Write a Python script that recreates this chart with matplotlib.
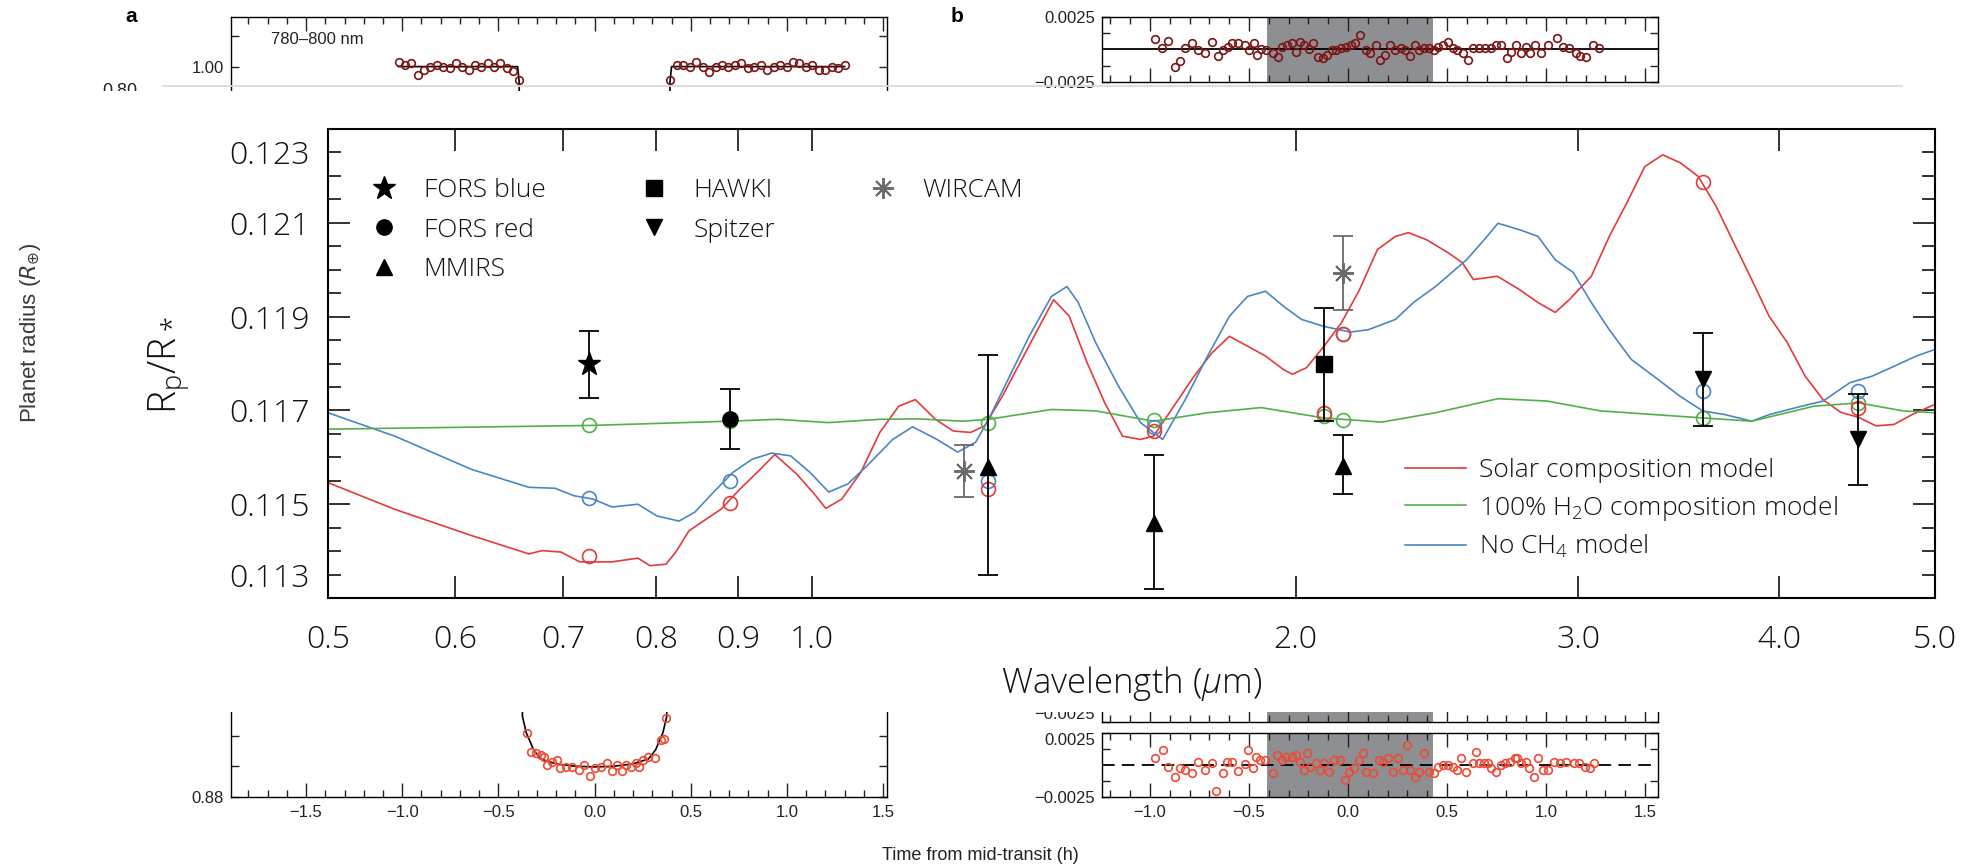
import numpy as np
import matplotlib
matplotlib.use("Agg")
import matplotlib.pyplot as plt
from matplotlib.lines import Line2D
from matplotlib.patches import Rectangle
from matplotlib.font_manager import FontProperties
from matplotlib.ticker import MultipleLocator, FuncFormatter, NullLocator

W, H = 1979, 867

plt.rcParams['mathtext.fontset'] = 'custom'
plt.rcParams['mathtext.rm'] = 'Open Sans:light'
plt.rcParams['mathtext.it'] = 'Open Sans:light:italic'
plt.rcParams['mathtext.bf'] = 'Open Sans:bold'

# ---------------- transmission spectrum (main panel) ----------------
fors_blue_wl = [0.727]
fors_blue_rp = [0.11798]
fors_blue_err = [0.00072]

fors_red_wl = [0.889]
fors_red_rp = [0.11681]
fors_red_err = [0.00064]

mmirs_wl = [1.288, 1.632, 2.14]
mmirs_rp = [0.11579, 0.1146, 0.11581]
mmirs_err_lo = [0.00229, 0.0014, 0.0006]
mmirs_err_hi = [0.0024, 0.00145, 0.00066]

hawki_wl = [2.084]
hawki_rp = [0.11798]
hawki_err = [0.0012]

spitzer_wl = [3.584, 4.48]
spitzer_rp = [0.11766, 0.11638]
spitzer_err = [0.001, 0.00097]

wircam_wl = [1.243, 2.14]
wircam_rp = [0.11571, 0.11993]
wircam_err = [0.00055, 0.00079]

# band-averaged model values (open circles)
band_wl = [0.727, 0.889, 1.288, 1.632, 2.084, 2.14, 3.584, 4.48]
solar_band = [0.11390, 0.11502, 0.11532, 0.11656, 0.11695, 0.11863, 0.12188, 0.11706]
h2o_band = [0.11668, 0.11677, 0.11674, 0.11679, 0.11688, 0.11679, 0.11683, 0.11716]
noch4_band = [0.11513, 0.11550, 0.11550, 0.11665, np.nan, 0.11863, 0.11741, 0.11741]

# model spectra
solar_wl = [0.500, 0.5503, 0.6144, 0.6668, 0.6794, 0.6981, 0.7173, 0.7510, 0.7795, 0.7930,
            0.8114, 0.8231, 0.8386, 0.8543, 0.8779, 0.9021, 0.9268, 0.9484, 0.9788, 1.0058,
            1.0203, 1.0440, 1.0728, 1.1024, 1.1327, 1.1600, 1.1938, 1.2249, 1.2557, 1.2811,
            1.3139, 1.3480, 1.3820, 1.4142, 1.4461, 1.4836, 1.5213, 1.5610, 1.6018, 1.6320,
            1.6746, 1.7295, 1.7747, 1.8194, 1.8671, 1.9158, 1.9659, 1.9914, 2.0317, 2.0837,
            2.1361, 2.1919, 2.2491, 2.3079, 2.3513, 2.4126, 2.4894, 2.5398, 2.5805, 2.6705,
            2.7586, 2.8307, 2.9019, 2.9606, 3.0556, 3.1354, 3.2159, 3.2991, 3.3845, 3.4706,
            3.5613, 3.6543, 3.7480, 3.8450, 3.9419, 4.0455, 4.1511, 4.2588, 4.3678, 4.4823,
            4.5949, 4.7148, 4.8378, 5.000]
solar_rp = [0.11546, 0.11489, 0.11433, 0.11394, 0.11401, 0.11398, 0.11377, 0.11377, 0.11385, 0.11369,
            0.11372, 0.11398, 0.11443, 0.11462, 0.11489, 0.11532, 0.11571, 0.11606, 0.11564, 0.11518,
            0.11491, 0.11511, 0.11568, 0.11653, 0.11709, 0.11723, 0.11681, 0.11656, 0.11653, 0.11667,
            0.11730, 0.11802, 0.11872, 0.11936, 0.11901, 0.11802, 0.11717, 0.11645, 0.11638, 0.11645,
            0.11702, 0.11773, 0.11823, 0.11858, 0.11837, 0.11816, 0.11787, 0.11777, 0.11791, 0.11837,
            0.11887, 0.11957, 0.12043, 0.12071, 0.12079, 0.12064, 0.12036, 0.12015, 0.11979, 0.11986,
            0.11957, 0.11930, 0.11909, 0.11936, 0.11986, 0.12071, 0.12143, 0.12220, 0.12245, 0.12228,
            0.12199, 0.12135, 0.12057, 0.11979, 0.11901, 0.11845, 0.11773, 0.11723, 0.11696, 0.11685,
            0.11667, 0.11670, 0.11691, 0.11713]

noch4_wl = [0.500, 0.5503, 0.6144, 0.6668, 0.6921, 0.7112, 0.7308, 0.7510, 0.7795, 0.8010,
            0.8268, 0.8457, 0.8689, 0.8932, 0.9183, 0.9442, 0.9703, 0.9973, 1.0246, 1.0529,
            1.0818, 1.1229, 1.1555, 1.1966, 1.2325, 1.2646, 1.2885, 1.3222, 1.3655, 1.4097,
            1.4415, 1.4650, 1.5018, 1.5517, 1.6018, 1.6532, 1.7077, 1.7633, 1.8194, 1.8671,
            1.9158, 1.9659, 2.0172, 2.0837, 2.1633, 2.2198, 2.3079, 2.3681, 2.4440, 2.5551,
            2.6212, 2.6730, 2.7586, 2.8307, 2.9019, 2.9777, 3.0556, 3.1354, 3.2350, 3.3620,
            3.4706, 3.5842, 3.7009, 3.8457, 3.9427, 4.0980, 4.2595, 4.4253, 4.5690, 4.7150,
            4.8690, 5.000]
noch4_rp = [0.11695, 0.11645, 0.11574, 0.11536, 0.11534, 0.11518, 0.11511, 0.11494, 0.11500, 0.11475,
            0.11464, 0.11483, 0.11526, 0.11568, 0.11596, 0.11609, 0.11603, 0.11568, 0.11526, 0.11543,
            0.11581, 0.11638, 0.11665, 0.11638, 0.11611, 0.11632, 0.11681, 0.11760, 0.11858, 0.11943,
            0.11964, 0.11930, 0.11845, 0.11752, 0.11674, 0.11638, 0.11723, 0.11816, 0.11901, 0.11943,
            0.11954, 0.11922, 0.11894, 0.11879, 0.11867, 0.11872, 0.11894, 0.11930, 0.11964, 0.12021,
            0.12064, 0.12099, 0.12085, 0.12071, 0.12021, 0.11994, 0.11930, 0.11872, 0.11809, 0.11766,
            0.11730, 0.11699, 0.11691, 0.11677, 0.11691, 0.11706, 0.11720, 0.11759, 0.11773, 0.11794,
            0.11816, 0.11830]

h2o_wl = [0.500, 0.7297, 0.8891, 0.9525, 1.0240, 1.1024, 1.1640, 1.2404, 1.2885, 1.4100,
          1.5018, 1.6320, 1.7633, 1.9039, 2.0819, 2.2629, 2.4440, 2.6730, 2.8669, 3.0953,
          3.5842, 3.8457, 4.2042, 4.4820, 4.7762, 5.000]
h2o_rp = [0.11660, 0.11668, 0.11677, 0.11681, 0.11674, 0.11681, 0.11682, 0.11677, 0.11681, 0.11702,
          0.11699, 0.11677, 0.11695, 0.11706, 0.11684, 0.11675, 0.11695, 0.11725, 0.11720, 0.11699,
          0.11684, 0.11677, 0.11709, 0.11716, 0.11699, 0.11695]

wl_ticks = [0.5, 0.6, 0.7, 0.8, 0.9, 1.0, 2.0, 3.0, 4.0, 5.0]
wl_ticklabels = ['0.5', '0.6', '0.7', '0.8', '0.9', '1.0', '2.0', '3.0', '4.0', '5.0']

# ---------------- light curve panel a ----------------
a_pre_t = [-1.018, -0.985, -0.952, -0.919, -0.886, -0.853, -0.820, -0.787, -0.754, -0.721,
           -0.688, -0.655, -0.622, -0.589, -0.556, -0.523, -0.490, -0.457, -0.424, -0.394]
a_pre_f = [1.00082, 1.00028, 1.00066, 0.99864, 0.99946, 1.00000, 1.00028, 1.00000, 0.99973, 1.00055,
           1.00000, 0.99946, 1.00028, 1.00000, 1.00055, 1.00000, 1.00055, 0.99973, 0.99934, 0.99781]
a_post_t = [0.394, 0.428, 0.461, 0.495, 0.528, 0.562, 0.595, 0.629, 0.662, 0.696,
            0.730, 0.763, 0.797, 0.830, 0.864, 0.897, 0.931, 0.964, 0.998, 1.032,
            1.065, 1.099, 1.132, 1.166, 1.199, 1.233, 1.266, 1.300]
a_post_f = [0.99781, 1.00028, 1.00028, 1.00000, 1.00082, 1.00000, 0.99918, 1.00000, 1.00028, 1.00000,
            1.00028, 1.00055, 0.99973, 1.00000, 1.00028, 0.99946, 1.00000, 1.00028, 1.00000, 1.00082,
            1.00055, 1.00000, 1.00028, 0.99946, 0.99946, 1.00000, 0.99973, 1.00028]
a_in_t = [-0.352, -0.329, -0.303, -0.279, -0.263, -0.247, -0.220, -0.197, -0.181, -0.148,
          -0.115, -0.082, -0.056, -0.023, 0.000, 0.033, 0.066, 0.092, 0.115, 0.142,
          0.165, 0.188, 0.214, 0.230, 0.254, 0.280, 0.313, 0.345, 0.362, 0.372]
a_in_f = [0.89042, 0.88740, 0.88713, 0.88686, 0.88658, 0.88521, 0.88575, 0.88603, 0.88466, 0.88493,
          0.88493, 0.88439, 0.88521, 0.88340, 0.88466, 0.88493, 0.88548, 0.88422, 0.88521, 0.88428,
          0.88521, 0.88493, 0.88548, 0.88493, 0.88603, 0.88658, 0.88641, 0.88932, 0.88943, 0.89288]
a_model_t = [-1.02, -0.40, -0.392, -0.375, -0.355, -0.317, -0.28, -0.20, -0.10, 0.0,
             0.10, 0.20, 0.28, 0.317, 0.355, 0.375, 0.392, 0.40, 1.30]
a_model_f = [1.0, 1.0, 0.9975, 0.8932, 0.8905, 0.8877, 0.8862, 0.8854, 0.8850, 0.8849,
             0.8850, 0.8854, 0.8862, 0.8877, 0.8905, 0.8932, 0.9975, 1.0, 1.0]

# ---------------- residual panels b ----------------
b_top_t = [-0.973, -0.941, -0.910, -0.875, -0.847, -0.821, -0.790, -0.758, -0.721, -0.689,
           -0.658, -0.632, -0.607, -0.585, -0.553, -0.522, -0.500, -0.475, -0.459, -0.437,
           -0.412, -0.380, -0.355, -0.333, -0.307, -0.285, -0.263, -0.244, -0.222, -0.197,
           -0.175, -0.150, -0.128, -0.106, -0.080, -0.058, -0.033, -0.011, 0.014, 0.036,
           0.061, 0.093, 0.109, 0.140, 0.162, 0.188, 0.213, 0.235, 0.266, 0.288,
           0.314, 0.339, 0.361, 0.383, 0.408, 0.434, 0.456, 0.478, 0.503, 0.528,
           0.550, 0.582, 0.604, 0.629, 0.661, 0.692, 0.724, 0.749, 0.771, 0.802,
           0.825, 0.850, 0.875, 0.897, 0.919, 0.945, 0.976, 1.008, 1.055, 1.087,
           1.118, 1.150, 1.172, 1.203, 1.235, 1.266]
b_top_r = [0.00077, 0.00008, 0.00066, -0.00133, -0.00089, 0.00008, 0.00046, -0.00005, -0.00031, 0.00059,
           -0.00051, -0.00005, 0.00020, 0.00046, 0.00046, 0.00033, -0.00005, 0.00046, -0.00043, 0.0,
           -0.00005, -0.00031, -0.00056, 0.00020, 0.00033, 0.00051, -0.00018, 0.00059, 0.00033, 0.0,
           0.00046, -0.00056, -0.00069, -0.00043, -0.00005, -0.00005, 0.00008, 0.00020, 0.00033, 0.00046,
           0.00110, -0.00005, -0.00031, 0.00033, -0.00082, -0.00043, 0.00033, -0.00005, 0.00008, -0.00005,
           -0.00051, 0.00033, -0.00005, 0.00008, 0.00008, -0.00005, 0.00020, 0.00033, 0.00059, 0.00008,
           -0.00005, -0.00031, -0.00082, 0.00008, 0.00008, 0.00008, 0.00008, 0.00033, 0.00033, -0.00069,
           -0.00018, 0.00033, -0.00031, 0.00020, -0.00031, 0.00033, -0.00031, 0.00033, 0.00084, 0.00020,
           0.00008, -0.00031, -0.00051, -0.00056, 0.00033, 0.00008]

b_bot_t = [-0.973, -0.932, -0.910, -0.875, -0.847, -0.821, -0.790, -0.758, -0.721, -0.689,
           -0.664, -0.632, -0.613, -0.585, -0.553, -0.522, -0.506, -0.481, -0.465, -0.443,
           -0.418, -0.380, -0.358, -0.333, -0.311, -0.285, -0.263, -0.244, -0.222, -0.206,
           -0.191, -0.159, -0.143, -0.121, -0.096, -0.071, -0.042, -0.017, 0.005, 0.030,
           0.055, 0.077, 0.093, 0.124, 0.156, 0.178, 0.203, 0.229, 0.251, 0.276,
           0.298, 0.314, 0.339, 0.361, 0.383, 0.408, 0.434, 0.456, 0.478, 0.503,
           0.528, 0.550, 0.572, 0.598, 0.629, 0.645, 0.661, 0.686, 0.708, 0.724,
           0.749, 0.771, 0.793, 0.818, 0.844, 0.856, 0.875, 0.897, 0.913, 0.938,
           0.960, 0.983, 1.008, 1.039, 1.071, 1.103, 1.140, 1.165, 1.197, 1.222, 1.244]
b_bot_r = [0.00053, 0.00118, -0.00013, -0.00097, -0.00026, -0.00039, -0.00066, 0.00026, -0.00039, 0.00018,
           -0.00202, -0.00060, 0.00026, 0.00026, -0.00045, 0.00008, 0.00118, -0.00026, 0.00066, 0.00039,
           0.00039, -0.00066, 0.00079, 0.00039, 0.00066, 0.00066, 0.00079, 0.00026, -0.00039, 0.00092,
           -0.00013, 0.00013, -0.00039, 0.00013, -0.00053, 0.00039, 0.00039, -0.00118, -0.00053, -0.00026,
           0.00039, 0.00092, -0.00053, -0.00066, 0.00039, 0.00026, 0.00053, -0.00053, 0.00053, -0.00039,
           0.00158, -0.00039, -0.00092, -0.00053, 0.00092, -0.00053, -0.00066, -0.00013, 0.0, 0.0,
           -0.00013, -0.00039, 0.00053, -0.00053, 0.00013, 0.00105, 0.00013, 0.00013, 0.00013, -0.00026,
           -0.00053, 0.0, 0.00013, 0.00026, 0.00053, 0.00053, 0.00013, 0.00026, -0.00026, -0.00092,
           0.00053, -0.00039, -0.00039, 0.00026, 0.00013, 0.00026, 0.00013, 0.00013, -0.00013, -0.00026, 0.00018]

in_transit = (-0.41, 0.43)

# ---------------- colours / fonts ----------------
RED = '#e53a3a'
GREEN = '#52b04a'
BLUE = '#4a86c6'
DARKRED = '#7e1414'
ORANGE = '#ee4b36'
SHADE = '#8d8f93'
INK = '#111111'
THIN = dict(family=['Open Sans', 'DejaVu Sans'], weight='light')
PANEL = ['Liberation Sans Narrow', 'Liberation Sans', 'DejaVu Sans']


def px_axes(fig, x0, y0, x1, y1, **kw):
    return fig.add_axes([x0 / W, 1 - y1 / H, (x1 - x0) / W, (y1 - y0) / H], **kw)


def one_dec(v, pos):
    if abs(v) < 1e-9:
        return '0.0'
    return f'{v:.1f}'.replace('-', '\u2212')


def panel_style(ax, xlabels=False):
    ax.xaxis.set_major_locator(MultipleLocator(0.5))
    ax.xaxis.set_minor_locator(MultipleLocator(0.1))
    ax.xaxis.set_major_formatter(FuncFormatter(one_dec))
    ax.tick_params(which='both', direction='in', top=True, right=True, width=1.0,
                   labelsize=12, colors='#222222')
    ax.tick_params(axis='x', which='major', length=10, pad=6, labelbottom=xlabels)
    ax.tick_params(axis='x', which='minor', length=5)
    ax.tick_params(axis='y', which='both', length=6, pad=5)
    for s in ax.spines.values():
        s.set_linewidth(1.0)
    for lab in ax.get_xticklabels() + ax.get_yticklabels():
        lab.set_family(PANEL)


fig = plt.figure(figsize=(W / 100, H / 100), dpi=100)
fig.patch.set_facecolor('white')

# ---- panel a (light curve, mostly hidden behind the spectrum) ----
ax_a = px_axes(fig, 231, 16.7, 887, 796.7)
ax_a.plot(a_model_t, a_model_f, color='k', lw=1.2, zorder=2)
ax_a.plot(a_pre_t, a_pre_f, 'o', mfc='none', mec=DARKRED, ms=5.5, mew=1.2, zorder=3)
ax_a.plot(a_post_t, a_post_f, 'o', mfc='none', mec=DARKRED, ms=5.5, mew=1.2, zorder=3)
ax_a.plot(a_in_t, a_in_f, 'o', mfc='none', mec=ORANGE, ms=5.5, mew=1.2, zorder=3)
ax_a.set_xlim(-1.89, 1.52)
ax_a.set_ylim(0.88, 1.0082)
ax_a.set_yticks([0.88, 1.00], ['0.88', '1.00'])
ax_a.yaxis.set_minor_locator(MultipleLocator(0.005))
panel_style(ax_a, xlabels=True)
ax_a.text(-1.68, 1.0045, '780\u2013800 nm', fontsize=12, family=PANEL, va='center', color='#222222')

# ---- panel b residuals ----
b_x0, b_x1 = 1101.8, 1657.5
ax_b1 = px_axes(fig, b_x0, 16.7, b_x1, 82)
ax_b2 = px_axes(fig, b_x0, 640, b_x1, 722)
ax_b3 = px_axes(fig, b_x0, 733.3, b_x1, 796.7)
for axb in (ax_b1, ax_b2, ax_b3):
    axb.axvspan(in_transit[0], in_transit[1], color=SHADE, lw=0, zorder=1)
    axb.set_xlim(-1.243, 1.563)
ax_b1.axhline(0, color='k', lw=1.3, zorder=2)
ax_b1.plot(b_top_t, b_top_r, 'o', mfc='none', mec=DARKRED, ms=5.5, mew=1.2, zorder=3)
ax_b3.axhline(0, color='k', lw=1.3, dashes=(7, 4), zorder=2)
ax_b3.plot(b_bot_t, b_bot_r, 'o', mfc='none', mec=ORANGE, ms=5.5, mew=1.2, zorder=3)
ax_b1.set_ylim(-0.0025, 0.0025)
ax_b3.set_ylim(-0.0025, 0.0025)
ax_b2.set_ylim(-0.0025, 0.0040)
for axb in (ax_b1, ax_b3):
    axb.set_yticks([-0.0025, 0.0025], ['\u22120.0025', '0.0025'])
    axb.set_yticks([-0.00125, 0.00125], minor=True)
ax_b2.set_yticks([-0.0025], ['\u22120.0025'])
ax_b2.set_yticks([-0.00125, 0.0, 0.00125, 0.0025], minor=True)
panel_style(ax_b1)
panel_style(ax_b2)
panel_style(ax_b3, xlabels=True)
# keep the stacked labels of b2 / b3 apart
ax_b3.get_yticklabels()[1].set_verticalalignment('top')
ax_b2.get_yticklabels()[0].set_verticalalignment('bottom')

fig.text(131 / W, 1 - 17 / H, 'a', fontsize=15, fontweight='bold', family=PANEL, ha='center', va='center')
fig.text(957 / W, 1 - 17 / H, 'b', fontsize=15, fontweight='bold', family=PANEL, ha='center', va='center')
fig.text(120 / W, 1 - 92 / H, '0.80', fontsize=13, family=PANEL, ha='center', va='center',
         color='#222222', zorder=0.5)
fig.text(980 / W, 1 - 855 / H, 'Time from mid-transit (h)', fontsize=13, family=PANEL,
         ha='center', va='center', color='#222222')
fig.text(31 / W, 1 - 333 / H, r'Planet radius ($R_{\oplus}$)', rotation=90, fontsize=16,
         family=PANEL, ha='center', va='center', color='#3a3a3a', math_fontfamily='dejavusans',
         zorder=0.5)

# ---- white cover holding the spectrum ----
fig.patches.append(Rectangle((60 / W, 1 - 712 / H), (W - 60) / W, (712 - 91) / H,
                             transform=fig.transFigure, facecolor='white', edgecolor='none', zorder=1))
fig.lines.append(Line2D([163 / W, 1902 / W], [1 - 86 / H, 1 - 86 / H], transform=fig.transFigure,
                        color='#dadada', lw=1.3, zorder=1.1))

# ---- main transmission spectrum ----
ax = px_axes(fig, 328, 129, 1935, 598, zorder=2)
ax.set_xscale('log')
ax.plot(solar_wl, solar_rp, color=RED, lw=1.2, zorder=2)
ax.plot(noch4_wl, noch4_rp, color=BLUE, lw=1.2, zorder=2)
ax.plot(h2o_wl, h2o_rp, color=GREEN, lw=1.2, zorder=2)
ax.plot(band_wl, h2o_band, 'o', mfc='none', mec=GREEN, ms=10, mew=1.2, zorder=3)
ax.plot(band_wl, noch4_band, 'o', mfc='none', mec=BLUE, ms=10, mew=1.2, zorder=3)
ax.plot(band_wl, solar_band, 'o', mfc='none', mec=RED, ms=10, mew=1.2, zorder=3)

eb = dict(capsize=7, elinewidth=1.3, capthick=1.3, zorder=5, ls='none')
ax.errorbar(fors_blue_wl, fors_blue_rp, yerr=fors_blue_err, fmt='*', color='k', ms=17, **eb)
ax.errorbar(fors_red_wl, fors_red_rp, yerr=fors_red_err, fmt='o', color='k', ms=11, **eb)
ax.errorbar(mmirs_wl, mmirs_rp, yerr=[mmirs_err_lo, mmirs_err_hi], fmt='^', color='k', ms=12, **eb)
ax.errorbar(hawki_wl, hawki_rp, yerr=hawki_err, fmt='s', color='k', ms=11, **eb)
ax.errorbar(spitzer_wl, spitzer_rp, yerr=spitzer_err, fmt='v', color='k', ms=12, **eb)
ax.errorbar(wircam_wl, wircam_rp, yerr=wircam_err, fmt='none', ecolor='#6a6a6a', **eb)
ax.plot(wircam_wl, wircam_rp, ls='none', marker=(8, 2, 0), color='#6a6a6a', ms=15, mew=1.4, zorder=5)

ax.set_xlim(0.5, 5.0)
ax.set_ylim(0.113, 0.123)
ax.set_xticks(wl_ticks, wl_ticklabels)
ax.xaxis.set_minor_locator(NullLocator())
ax.set_yticks([0.115, 0.117, 0.119, 0.121], ['0.115', '0.117', '0.119', '0.121'])
y_minor = [0.1135, 0.114, 0.1145, 0.1155, 0.116, 0.1165, 0.1175, 0.118, 0.1185,
           0.1195, 0.120, 0.1205, 0.1215, 0.122, 0.1225]
y_minor_labels = ['0.113'] + [''] * 13 + ['0.123']
ax.set_yticks(y_minor, y_minor_labels, minor=True)
ax.tick_params(which='both', direction='in', top=True, right=True, width=1.2, colors=INK)
ax.tick_params(which='major', length=16)
ax.tick_params(which='minor', length=9.5)
ax.tick_params(axis='x', which='both', pad=19)
ax.tick_params(axis='y', which='both', pad=13)
tick_fp = FontProperties(size=23, **THIN)
for lab in (ax.get_xticklabels() + ax.get_yticklabels() + ax.get_yticklabels(minor=True)):
    lab.set_fontproperties(tick_fp)
for s in ax.spines.values():
    s.set_linewidth(1.5)

ax.set_xlabel(r'Wavelength ($\mu$m)', fontproperties=FontProperties(size=25, **THIN), color=INK)
ax.xaxis.set_label_coords(0.5, -0.14)
ax.set_ylabel(r'R$_\mathrm{p}$/R$_*$', fontproperties=FontProperties(size=28, **THIN), color=INK)
ax.yaxis.set_label_coords(-0.0846, 0.4968)

# instrument legend (3 columns, filled column-wise)
blank = Line2D([], [], ls='none', marker='none')
inst_handles = [
    Line2D([], [], ls='none', marker='*', color='k', ms=17),
    Line2D([], [], ls='none', marker='o', color='k', ms=11),
    Line2D([], [], ls='none', marker='^', color='k', ms=12),
    Line2D([], [], ls='none', marker='s', color='k', ms=11),
    Line2D([], [], ls='none', marker='v', color='k', ms=12),
    blank,
    Line2D([], [], ls='none', marker=(8, 2, 0), color='#6a6a6a', ms=15, mew=1.4),
    blank,
    blank,
]
inst_labels = ['FORS blue', 'FORS red', 'MMIRS', 'HAWKI', 'Spitzer', '', 'WIRCAM', '', '']
leg_fp = FontProperties(size=19, **THIN)
leg1 = ax.legend(inst_handles, inst_labels, ncol=3, loc='upper left',
                 bbox_to_anchor=(0.0267, 0.8955), frameon=False, prop=leg_fp,
                 handlelength=1.0, handletextpad=1.0, columnspacing=3.6,
                 labelspacing=0.55, borderpad=0, borderaxespad=0)
ax.add_artist(leg1)

model_handles = [Line2D([], [], color=RED, lw=1.2),
                 Line2D([], [], color=GREEN, lw=1.2),
                 Line2D([], [], color=BLUE, lw=1.2)]
model_labels = ['Solar composition model', '100% H$_2$O composition model', 'No CH$_4$ model']
leg2 = ax.legend(model_handles, model_labels, loc='upper left', bbox_to_anchor=(0.6704, 0.2985),
                 frameon=False, prop=leg_fp, handlelength=2.3, handletextpad=0.5,
                 labelspacing=0.4, borderpad=0, borderaxespad=0)
for t in leg1.get_texts() + leg2.get_texts():
    t.set_color(INK)

fig.savefig('out.png', dpi=100, facecolor='white')
